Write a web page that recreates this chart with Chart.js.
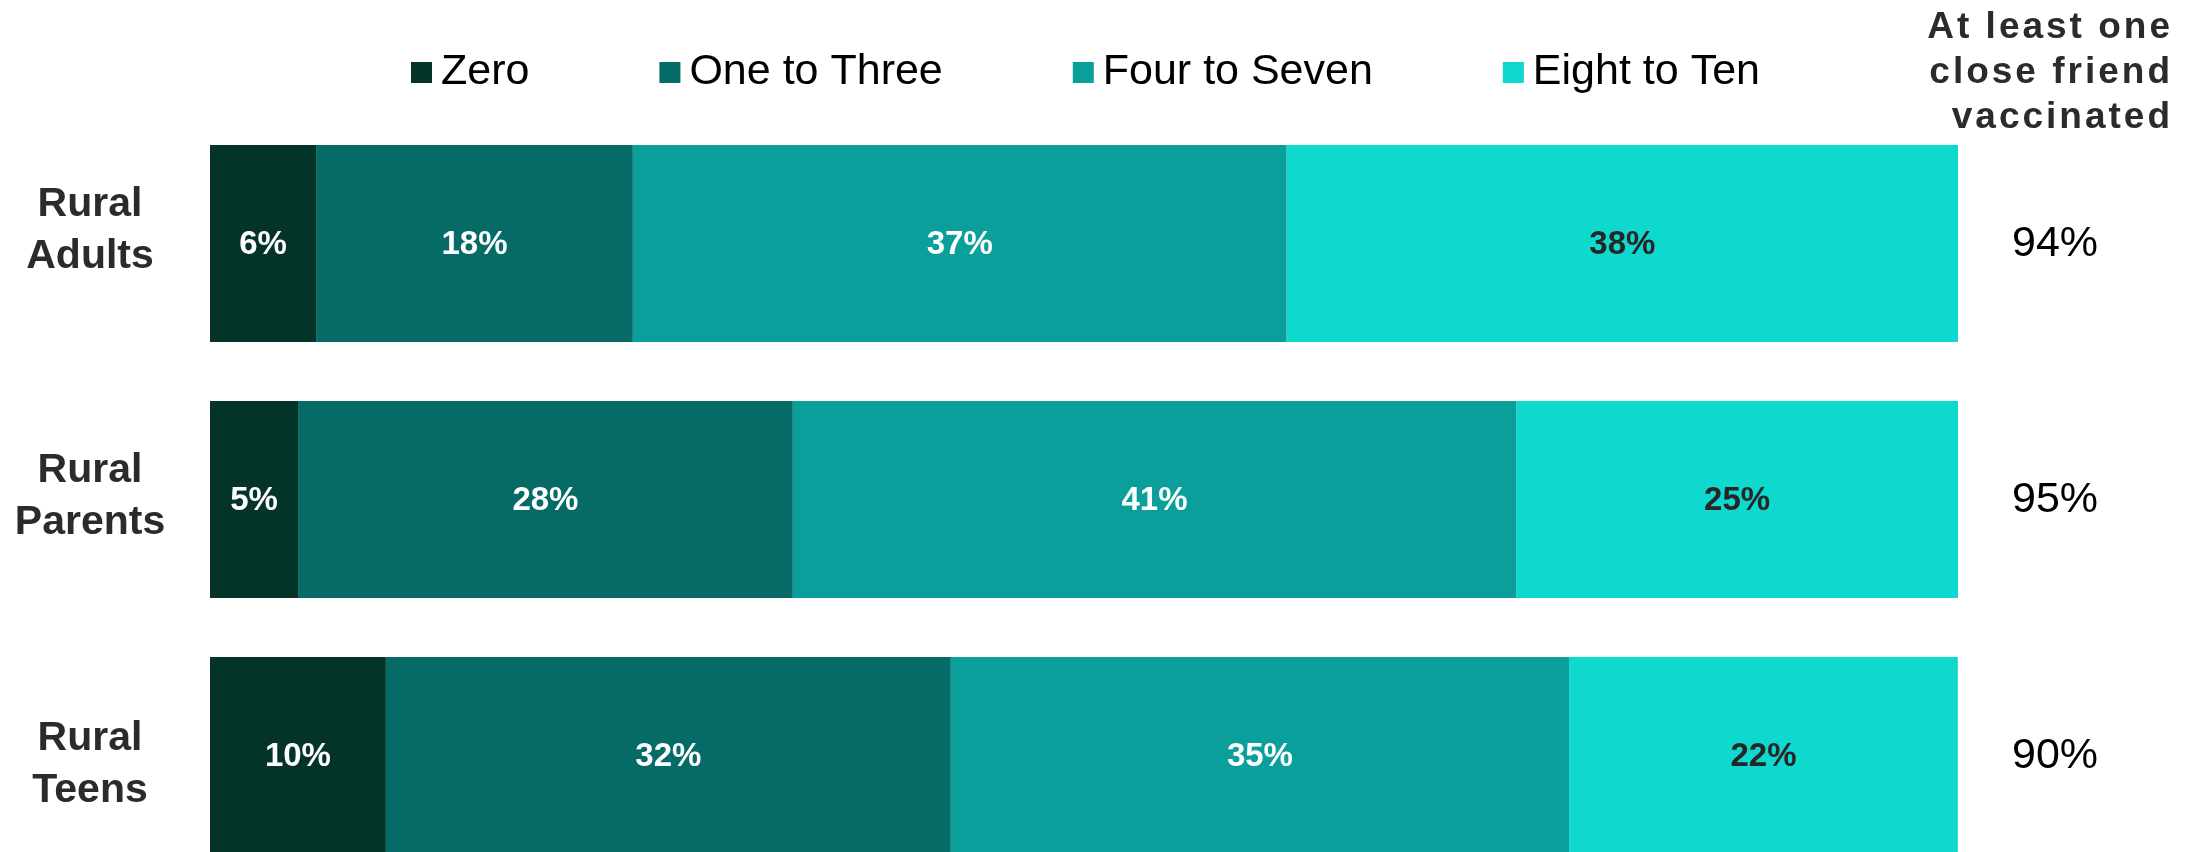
<!DOCTYPE html>
<html lang="en">
<head>
  <meta charset="UTF-8">
  <title>Close friends vaccinated</title>
  <script src="https://cdn.jsdelivr.net/npm/chart.js"></script>
  <style>
    body {
      margin: 0;
      padding: 0;
      background-color: #fff;
      overflow: hidden;
    }
    #wrap {
      width: 2209px;
      height: 900px;
    }
  </style>
</head>
<body>
  <div id="wrap">
    <canvas id="friendsChart" width="2209" height="900"></canvas>
  </div>
  <script>
    // data (share of respondents, % of bar)
    const categories = ['Rural Adults', 'Rural Parents', 'Rural Teens'];
    const seriesNames = ['Zero', 'One to Three', 'Four to Seven', 'Eight to Ten'];
    const zeroFriends = [6.07, 5.04, 10.06];
    const oneToThree = [18.12, 28.30, 32.32];
    const fourToSeven = [37.40, 41.39, 35.37];
    const eightToTen = [38.42, 25.27, 22.24];
    const atLeastOne = [94, 95, 90];
    const sideHeader = ['At least one', 'close friend', 'vaccinated'];

    const colors = ['#033329', '#066a66', '#0a9f9b', '#0fd8ce'];
    const labelColors = ['#ffffff', '#ffffff', '#ffffff', '#262626'];
    const FONT = "'Liberation Sans', Arial, sans-serif";

    const seriesValues = [zeroFriends, oneToThree, fourToSeven, eightToTen];

    // draws legend, row labels, value labels and the right-hand column
    const textPlugin = {
      id: 'textPlugin',
      afterDatasetsDraw(chart) {
        const ctx = chart.ctx;
        const yScale = chart.scales.y;
        ctx.save();

        // value labels inside the segments
        ctx.font = 'bold 33px ' + FONT;
        ctx.textAlign = 'center';
        ctx.textBaseline = 'middle';
        chart.data.datasets.forEach((ds, d) => {
          const meta = chart.getDatasetMeta(d);
          meta.data.forEach((bar, i) => {
            ctx.fillStyle = labelColors[d];
            ctx.fillText(Math.round(ds.data[i]) + '%', (bar.x + bar.base) / 2, bar.y + 1);
          });
        });

        // row labels on the left
        const rowShift = [-14, -4, 8];
        ctx.font = 'bold 41px ' + FONT;
        ctx.fillStyle = '#2b2b2b';
        categories.forEach((cat, i) => {
          const cy = yScale.getPixelForValue(i) + rowShift[i];
          const lines = cat.split(' ');
          ctx.fillText(lines[0], 90, cy - 25);
          ctx.fillText(lines[1], 90, cy + 27);
        });

        // right column values
        ctx.font = '43px ' + FONT;
        ctx.fillStyle = '#000';
        atLeastOne.forEach((v, i) => {
          ctx.fillText(v + '%', 2055, yScale.getPixelForValue(i) + 1);
        });

        // right column header
        ctx.font = 'bold 37px ' + FONT;
        ctx.fillStyle = '#2b2b2b';
        ctx.textBaseline = 'alphabetic';
        ctx.textAlign = 'right';
        ctx.letterSpacing = '3px';
        sideHeader.forEach((line, i) => {
          ctx.fillText(line, 2173, 38 + i * 45);
        });
        ctx.letterSpacing = '0px';

        // legend across the top
        ctx.font = '43px ' + FONT;
        ctx.textAlign = 'left';
        let x = 411;
        seriesNames.forEach((name, i) => {
          ctx.fillStyle = colors[i];
          ctx.fillRect(x, 62, 21, 21);
          ctx.fillStyle = '#000';
          ctx.fillText(name, x + 30, 84);
          x += 30 + ctx.measureText(name).width + 130;
        });

        ctx.restore();
      }
    };

    const ctx = document.getElementById('friendsChart').getContext('2d');
    new Chart(ctx, {
      type: 'bar',
      data: {
        labels: categories,
        datasets: seriesNames.map((name, i) => ({
          label: name,
          data: seriesValues[i],
          backgroundColor: colors[i],
          borderWidth: 0,
          barPercentage: 0.77,
          categoryPercentage: 1
        }))
      },
      options: {
        indexAxis: 'y',
        responsive: false,
        animation: false,
        devicePixelRatio: 1,
        layout: {
          padding: { left: 210, right: 251, top: 115.5, bottom: 16.5 }
        },
        scales: {
          x: { stacked: true, min: 0, max: 100, display: false },
          y: { stacked: true, display: false }
        },
        plugins: {
          legend: { display: false },
          tooltip: { enabled: false }
        }
      },
      plugins: [textPlugin]
    });
  </script>
</body>
</html>
